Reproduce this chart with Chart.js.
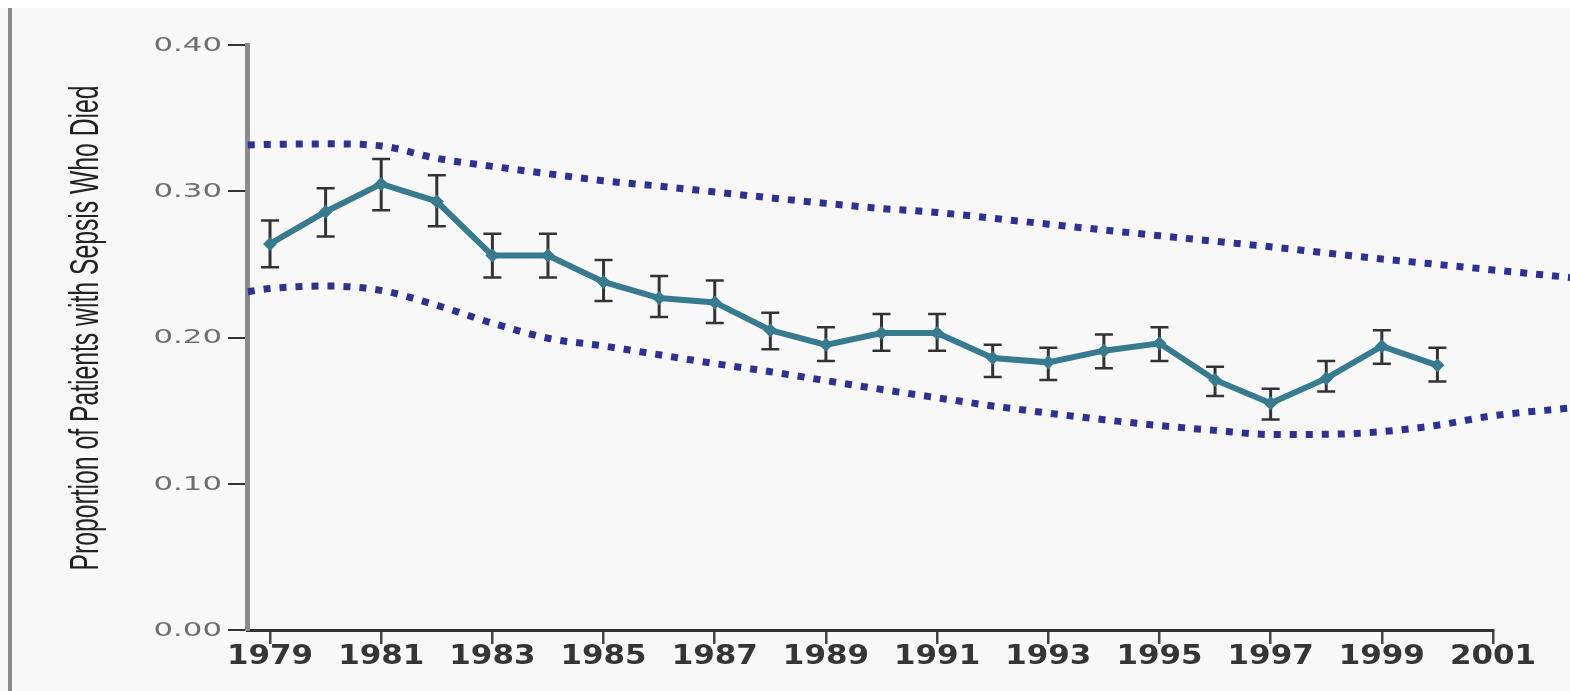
<!DOCTYPE html>
<html>
<head>
<meta charset="utf-8">
<script src="https://cdn.jsdelivr.net/npm/chart.js@4.4.1/dist/chart.umd.min.js"></script>
<style>
  html, body { margin: 0; padding: 0; background: #fff; }
  #panel { position: absolute; left: 0; top: 8px; width: 1570px; height: 683px; background: #f8f8f8; }
  #edge { position: absolute; left: 8px; top: 8px; width: 4px; height: 683px; background: #8a8a8a; }
  #chart { position: absolute; left: 0; top: 0; }
</style>
</head>
<body>
<div id="panel"></div>
<div id="edge"></div>
<canvas id="chart" width="1570" height="691"></canvas>
<script>
// values
var years = [1979, 1980, 1981, 1982, 1983, 1984, 1985, 1986, 1987, 1988, 1989,
             1990, 1991, 1992, 1993, 1994, 1995, 1996, 1997, 1998, 1999, 2000];
var proportion = [0.264, 0.286, 0.305, 0.293, 0.256, 0.256, 0.238, 0.227, 0.224, 0.205, 0.195,
                  0.203, 0.203, 0.186, 0.183, 0.191, 0.196, 0.171, 0.155, 0.172, 0.194, 0.181];
var errLow = [0.248, 0.269, 0.287, 0.276, 0.241, 0.241, 0.225, 0.214, 0.210, 0.192, 0.184,
              0.191, 0.191, 0.173, 0.171, 0.179, 0.184, 0.160, 0.144, 0.163, 0.182, 0.170];
var errHigh = [0.280, 0.302, 0.322, 0.311, 0.271, 0.271, 0.253, 0.242, 0.239, 0.217, 0.207,
               0.216, 0.216, 0.195, 0.193, 0.202, 0.207, 0.180, 0.165, 0.184, 0.205, 0.193];

var bandYears = [1978.6, 1979, 1980, 1981, 1982, 1983, 1984, 1985, 1986, 1987, 1988, 1989, 1990,
                 1991, 1992, 1993, 1994, 1995, 1996, 1997, 1998, 1999, 2000, 2001, 2002.4];
var bandUpper = [0.3316, 0.332, 0.3324, 0.331, 0.3225, 0.317, 0.312, 0.3072, 0.3035, 0.2995, 0.2955,
                 0.2917, 0.2882, 0.2855, 0.2815, 0.2775, 0.2735, 0.2696, 0.2658, 0.262, 0.2578,
                 0.2537, 0.25, 0.2462, 0.241];
var bandLower = [0.2313, 0.2335, 0.2352, 0.2322, 0.222, 0.2098, 0.1995, 0.1942, 0.1882, 0.1822, 0.1766,
                 0.1705, 0.1645, 0.1588, 0.1532, 0.1483, 0.1438, 0.1398, 0.1365, 0.1337, 0.1338,
                 0.1356, 0.140, 0.1465, 0.1518];

var xTicks = [1979, 1981, 1983, 1985, 1987, 1989, 1991, 1993, 1995, 1997, 1999, 2001];
var yTicks = [0, 0.1, 0.2, 0.3, 0.4];
var xMin = 1978.586, xMax = 2001;
var yTitle = 'Proportion of Patients with Sepsis Who Died';

function points(xs, ys) {
    return xs.map(function (x, i) { return { x: x, y: ys[i] }; });
}

var errorBars = {
    id: 'errorBars',
    beforeDatasetsDraw: function (chart) {
        var ctx = chart.ctx, xs = chart.scales.x, ys = chart.scales.y;
        ctx.save();
        ctx.strokeStyle = '#333';
        years.forEach(function (yr, i) {
            var px = xs.getPixelForValue(yr);
            var top = ys.getPixelForValue(errHigh[i]);
            var bot = ys.getPixelForValue(errLow[i]);
            ctx.lineWidth = 3;
            ctx.beginPath();
            ctx.moveTo(px, top);
            ctx.lineTo(px, bot);
            ctx.stroke();
            ctx.lineWidth = 2.5;
            ctx.beginPath();
            ctx.moveTo(px - 9, top); ctx.lineTo(px + 9, top);
            ctx.moveTo(px - 9, bot); ctx.lineTo(px + 9, bot);
            ctx.stroke();
        });
        ctx.restore();
    }
};

// tick labels in the picture are a wide face, so stretch them a bit
var wideTicks = {
    id: 'wideTicks',
    afterDraw: function (chart) {
        var ctx = chart.ctx, xs = chart.scales.x, ys = chart.scales.y;
        ctx.save();
        ctx.fillStyle = '#6e6e6e';
        ctx.font = '19px "DejaVu Sans"';
        ctx.textAlign = 'right';
        ctx.textBaseline = 'middle';
        ys.ticks.forEach(function (t) {
            ctx.save();
            ctx.translate(ys.right - 25, ys.getPixelForValue(t.value) + 1);
            ctx.scale(1.62, 1);
            ctx.fillText(t.value.toFixed(2), 0, 0);
            ctx.restore();
        });
        ctx.fillStyle = '#353535';
        ctx.font = 'bold 26px "DejaVu Sans"';
        ctx.textAlign = 'center';
        xs.ticks.forEach(function (t) {
            ctx.save();
            ctx.translate(xs.getPixelForValue(t.value), xs.top + 27);
            ctx.scale(1.19, 1);
            ctx.fillText(String(t.value), 0, 0);
            ctx.restore();
        });
        ctx.restore();
    }
};

var narrowTitle = {
    id: 'narrowTitle',
    afterDraw: function (chart) {
        var ctx = chart.ctx;
        ctx.save();
        ctx.font = '41px "Liberation Sans"';
        ctx.fillStyle = '#222';
        ctx.textAlign = 'center';
        ctx.textBaseline = 'alphabetic';
        var w = ctx.measureText(yTitle).width;
        ctx.translate(98, 328);
        ctx.rotate(-Math.PI / 2);
        ctx.scale(485 / w, 1);
        ctx.fillText(yTitle, 0, 0);
        ctx.restore();
    }
};

document.addEventListener('DOMContentLoaded', function () {
    var ctx = document.getElementById('chart').getContext('2d');

    new Chart(ctx, {
        type: 'line',
        data: {
            datasets: [{
                label: 'Proportion',
                data: points(years, proportion),
                borderColor: '#387a8e',
                backgroundColor: '#387a8e',
                borderWidth: 6,
                pointStyle: 'rectRot',
                pointRadius: 7,
                pointBorderWidth: 0,
                tension: 0
            }, {
                label: 'Upper',
                data: points(bandYears, bandUpper),
                borderColor: '#2d3194',
                borderWidth: 7,
                borderDash: [7, 9],
                borderCapStyle: 'butt',
                pointRadius: 0,
                cubicInterpolationMode: 'monotone',
                clip: false
            }, {
                label: 'Lower',
                data: points(bandYears, bandLower),
                borderColor: '#2d3194',
                borderWidth: 7,
                borderDash: [7, 9],
                borderCapStyle: 'butt',
                pointRadius: 0,
                cubicInterpolationMode: 'monotone',
                clip: false
            }]
        },
        options: {
            responsive: false,
            animation: false,
            layout: { padding: { left: 0, right: 77, top: 45, bottom: 0 } },
            plugins: {
                legend: { display: false },
                tooltip: { enabled: false }
            },
            scales: {
                x: {
                    type: 'linear',
                    bounds: 'data',
                    // bounds set here (not min/max) so the band lines keep their points past 2001
                    afterDataLimits: function (s) { s.min = xMin; s.max = xMax; },
                    afterBuildTicks: function (s) {
                        s.ticks = xTicks.map(function (v) { return { value: v }; });
                        s.min = xMin;
                        s.max = xMax;
                    },
                    afterFit: function (s) { s.height = 61; },
                    ticks: { display: false },
                    grid: {
                        drawOnChartArea: false,
                        tickLength: 14,
                        color: '#444',
                        lineWidth: 2.5
                    },
                    border: { color: '#333', width: 3 }
                },
                y: {
                    min: 0,
                    max: 0.4,
                    afterBuildTicks: function (s) {
                        s.ticks = yTicks.map(function (v) { return { value: v }; });
                    },
                    afterFit: function (s) { s.width = 247; },
                    ticks: { display: false },
                    grid: {
                        drawOnChartArea: false,
                        tickLength: 19,
                        color: '#333',
                        lineWidth: 2
                    },
                    border: { color: '#8a8a8a', width: 5 }
                }
            }
        },
        plugins: [errorBars, wideTicks, narrowTitle]
    });
});
</script>
</body>
</html>
